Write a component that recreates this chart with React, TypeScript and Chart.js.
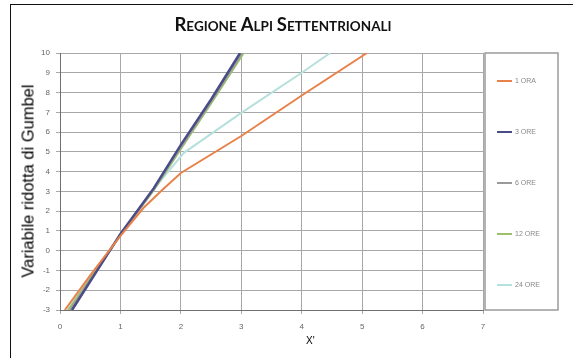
import React, { useEffect, useRef } from "react";
import { Chart, registerables } from "chart.js";

Chart.register(...registerables);

const seriesLabels = ["1 ORA", "3 ORE", "6 ORE", "12 ORE", "24 ORE"];
const seriesColors = ["#e8824a", "#4a4c88", "#9a9a9a", "#9cbf6c", "#b6e0dc"];

const ora1X = [0.08, 0.5, 1.0, 1.38, 1.7, 2.0, 3.0, 4.0, 5.08];
const ora1Y = [-3, -1.25, 0.75, 2.16, 3.1, 3.93, 5.8, 7.85, 10];
const ore3X = [0.2, 1.0, 1.55, 2.0, 2.5, 2.98];
const ore3Y = [-3, 0.85, 3.15, 5.35, 7.65, 10];
const ore6X = [0.17, 1.0, 1.55, 2.0, 2.5, 3.01];
const ore6Y = [-3, 0.8, 3.1, 5.25, 7.55, 10];
const ore12X = [0.14, 1.0, 1.55, 2.0, 2.5, 3.04];
const ore12Y = [-3, 0.8, 3.05, 5.15, 7.45, 10];
const ore24X = [0.12, 1.0, 1.6, 2.05, 3.0, 4.0, 4.47];
const ore24Y = [-3, 0.8, 3.3, 4.95, 6.97, 9.0, 10];

const xMin = 0, xMax = 7, yMin = -3, yMax = 10;

const allX = [ora1X, ore3X, ore6X, ore12X, ore24X];
const allY = [ora1Y, ore3Y, ore6Y, ore12Y, ore24Y];

const legendPlugin = {
  id: "boxLegend",
  afterDraw(chart: any) {
    const ctx = chart.ctx;
    const left = 485, top = 53, right = 558, bottom = 310;
    ctx.save();
    ctx.fillStyle = "#ffffff";
    ctx.fillRect(left, top, right - left, bottom - top);
    ctx.strokeStyle = "#9a9a9a";
    ctx.lineWidth = 1.5;
    ctx.strokeRect(left, top, right - left, bottom - top);
    chart.data.datasets.forEach((ds: any, i: number) => {
      const y = top + 28 + i * 51;
      ctx.strokeStyle = ds.borderColor;
      ctx.lineWidth = 2;
      ctx.beginPath();
      ctx.moveTo(497, y);
      ctx.lineTo(512, y);
      ctx.stroke();
      ctx.fillStyle = "#888888";
      ctx.font = "7px Arial";
      ctx.textBaseline = "middle";
      ctx.fillText(ds.label, 515, y);
    });
    ctx.restore();
  },
};

export default function App() {
  const ref = useRef<HTMLCanvasElement | null>(null);
  useEffect(() => {
    if (!ref.current) return;
    const chart = new Chart(ref.current, {
      type: "scatter",
      data: {
        datasets: seriesLabels.map((label, i) => ({
          label,
          data: allX[i].map((x, j) => ({ x, y: allY[i][j] })),
          showLine: true,
          borderColor: seriesColors[i],
          backgroundColor: seriesColors[i],
          borderWidth: i === 1 ? 2.5 : 2,
          pointRadius: 0,
          tension: 0,
        })),
      },
      options: {
        animation: false,
        responsive: false,
        devicePixelRatio: 1,
        layout: { padding: { top: 53, right: 90, left: 0, bottom: 0 } },
        plugins: {
          legend: { display: false },
          title: { display: false },
          tooltip: { enabled: false },
        },
        scales: {
          x: {
            type: "linear",
            min: xMin,
            max: xMax,
            afterFit: (s: any) => { s.height = 48; },
            ticks: { stepSize: 1, color: "#666", font: { size: 8, family: "Arial" }, padding: 8 },
            grid: { color: "#a8a8a8", lineWidth: 1, tickLength: 4 },
            border: { color: "#707070", width: 1 },
          },
          y: {
            type: "linear",
            min: yMin,
            max: yMax,
            afterFit: (s: any) => { s.width = 60; },
            ticks: { stepSize: 1, color: "#666", font: { size: 8, family: "Arial" }, padding: 6 },
            grid: { color: "#a8a8a8", lineWidth: 1, tickLength: 4 },
            border: { color: "#707070", width: 1 },
          },
        },
      },
      plugins: [legendPlugin],
    } as any);
    return () => chart.destroy();
  }, []);

  const big = { fontSize: 18.5 };
  const small = { fontSize: 13.5 };
  return (
    <div style={{ position: "fixed", left: 0, top: 0, width: 573, height: 358, overflow: "hidden", background: "#fff" }}>
      <div style={{ position: "absolute", left: 10, top: 4, width: 620, height: 420, border: "1.5px solid #111", boxSizing: "border-box" }} />
      <canvas ref={ref} width={573} height={358} style={{ position: "absolute", left: 0, top: 0, width: 573, height: 358 }} />
      <div style={{ position: "absolute", left: 0, width: 566, top: 14, textAlign: "center", fontFamily: "Lato, 'Open Sans', sans-serif", fontWeight: 700, color: "#111", lineHeight: "20px" }}>
        <span style={big}>R</span><span style={small}>EGIONE</span>{" "}
        <span style={big}>A</span><span style={small}>LPI</span>{" "}
        <span style={big}>S</span><span style={small}>ETTENTRIONALI</span>
      </div>
      <div style={{ position: "absolute", left: 28, top: 181, transform: "translate(-50%, -50%) rotate(-90deg)", whiteSpace: "nowrap", fontFamily: "Arial, 'Liberation Sans', sans-serif", fontSize: 16.5, color: "#000" }}>
        Variabile ridotta di Gumbel
      </div>
      <div style={{ position: "absolute", left: 306, top: 335, fontFamily: "Arial, 'Liberation Sans', sans-serif", fontSize: 10, color: "#000" }}>
        X'
      </div>
    </div>
  );
}
